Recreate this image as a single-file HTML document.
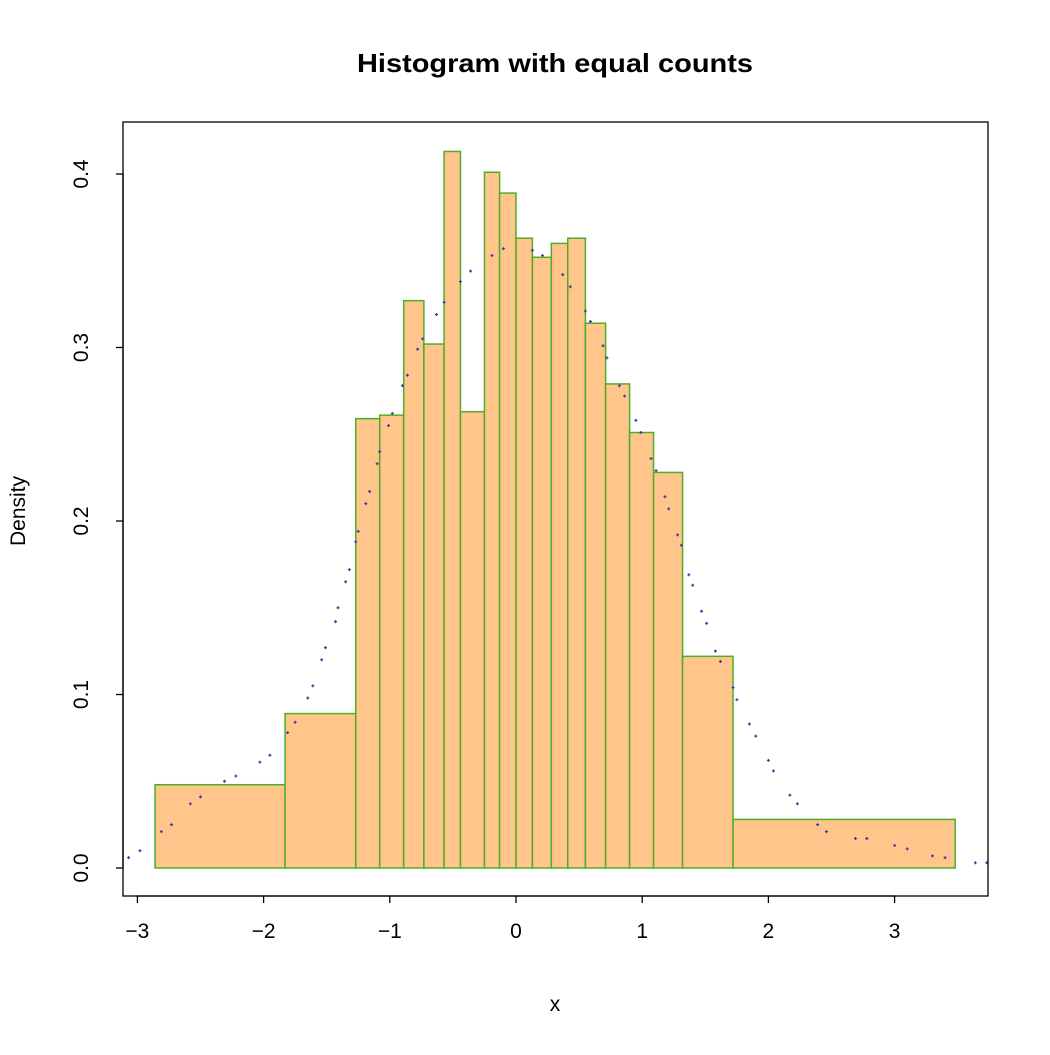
<!DOCTYPE html>
<html><head><meta charset="utf-8"><style>
html,body{margin:0;padding:0;background:#fff;}
svg text{font-family:"Liberation Sans",sans-serif;fill:#000;}
</style></head><body>
<svg id="chart" width="1050" height="1050" xmlns="http://www.w3.org/2000/svg">
<text x="555" y="72" font-size="26" font-weight="bold" text-anchor="middle" textLength="396" lengthAdjust="spacingAndGlyphs">Histogram with equal counts</text>
<text x="555" y="1011" font-size="21" text-anchor="middle">x</text>
<text x="0" y="0" font-size="21" text-anchor="middle" transform="translate(25,511) rotate(-90)">Density</text>
<g id="bars"></g>
<g id="dots"></g>
<g id="xaxis"></g>
<g id="yaxis"></g>
<rect x="123" y="122" width="865" height="774" fill="none" stroke="#000" stroke-width="1.3"/>
</svg>
<script>
const breaks=[-2.86,-1.83,-1.27,-1.08,-0.89,-0.73,-0.57,-0.44,-0.25,-0.13,0,0.13,0.28,0.41,0.55,0.71,0.90,1.09,1.32,1.72,3.48];
const densities=[0.048,0.089,0.259,0.261,0.327,0.302,0.413,0.263,0.401,0.389,0.363,0.352,0.360,0.363,0.314,0.279,0.251,0.228,0.122,0.028];
const dotX=[-3.07,-2.98,-2.81,-2.73,-2.58,-2.50,-2.31,-2.22,-2.03,-1.95,-1.81,-1.75,-1.65,-1.61,-1.54,-1.51,-1.43,-1.41,-1.35,-1.32,-1.27,-1.25,-1.19,-1.16,-1.10,-1.08,-1.01,-0.98,-0.90,-0.86,-0.78,-0.74,-0.63,-0.57,-0.44,-0.36,-0.19,-0.10,0.13,0.21,0.37,0.43,0.55,0.59,0.69,0.72,0.82,0.86,0.95,0.99,1.07,1.11,1.18,1.21,1.28,1.31,1.37,1.40,1.47,1.51,1.58,1.62,1.72,1.75,1.85,1.90,2.00,2.04,2.17,2.23,2.39,2.46,2.69,2.78,3.00,3.10,3.30,3.40,3.64,3.73];
const dotY=[.006,.010,.021,.025,.037,.041,.050,.053,.061,.065,.078,.084,.098,.105,.120,.127,.142,.150,.165,.172,.188,.194,.210,.217,.233,.240,.255,.262,.278,.284,.299,.305,.319,.326,.338,.344,.353,.357,.356,.353,.342,.335,.321,.315,.301,.294,.278,.272,.258,.251,.236,.229,.214,.207,.192,.186,.169,.163,.148,.141,.125,.119,.104,.097,.083,.076,.062,.056,.042,.037,.025,.021,.017,.017,.013,.011,.007,.006,.003,.003];
const xTicks=[-3,-2,-1,0,1,2,3];
const xTickLabels=["\u22123","\u22122","\u22121","0","1","2","3"];
const yTicks=[0,0.1,0.2,0.3,0.4];
const yTickLabels=["0.0","0.1","0.2","0.3","0.4"];
const NS="http://www.w3.org/2000/svg";
function sx(v){return 516+v*126.2;}
function sy(v){return 868-v*1735;}
function mk(tag,attrs,parent){const e=document.createElementNS(NS,tag);for(const k in attrs)e.setAttribute(k,attrs[k]);parent.appendChild(e);return e;}
const bars=document.getElementById('bars');
densities.forEach((d,i)=>{
 const x0=sx(breaks[i]),x1=sx(breaks[i+1]);
 const r=mk('rect',{x:x0,y:sy(d),width:x1-x0,height:sy(0)-sy(d),fill:'#FFC58A',stroke:'#4DAF26','stroke-width':1.5},bars);
 
 
});
const dots=document.getElementById('dots');
dotX.forEach((x,i)=>{
 const c=mk('path',{d:'M'+(sx(x)-1.5)+' '+sy(dotY[i])+'h3M'+sx(x)+' '+(sy(dotY[i])-1.5)+'v3',stroke:'#3C3CA8','stroke-width':1.2,fill:'none'},dots);
 
 
});
const xa=document.getElementById('xaxis');
mk('line',{x1:sx(xTicks[0]),x2:sx(xTicks[xTicks.length-1]),y1:896,y2:896,stroke:'#000','stroke-width':1.3},xa);
xTicks.forEach((t,i)=>{
 mk('line',{x1:sx(t),x2:sx(t),y1:896,y2:903,stroke:'#000','stroke-width':1.3},xa);
 const tx=mk('text',{x:sx(t),y:938,'font-size':21,'text-anchor':'middle'},xa);
 tx.textContent=xTickLabels[i];
 
 
});
const ya=document.getElementById('yaxis');
mk('line',{x1:123,x2:123,y1:sy(yTicks[0]),y2:sy(yTicks[yTicks.length-1]),stroke:'#000','stroke-width':1.3},ya);
yTicks.forEach((t,i)=>{
 mk('line',{x1:116,x2:123,y1:sy(t),y2:sy(t),stroke:'#000','stroke-width':1.3},ya);
 const tx=mk('text',{x:0,y:0,'font-size':21,'text-anchor':'middle',transform:'translate(88,'+sy(t)+') rotate(-90)'},ya);
 tx.textContent=yTickLabels[i];
 
 
});
</script>
</body></html>
